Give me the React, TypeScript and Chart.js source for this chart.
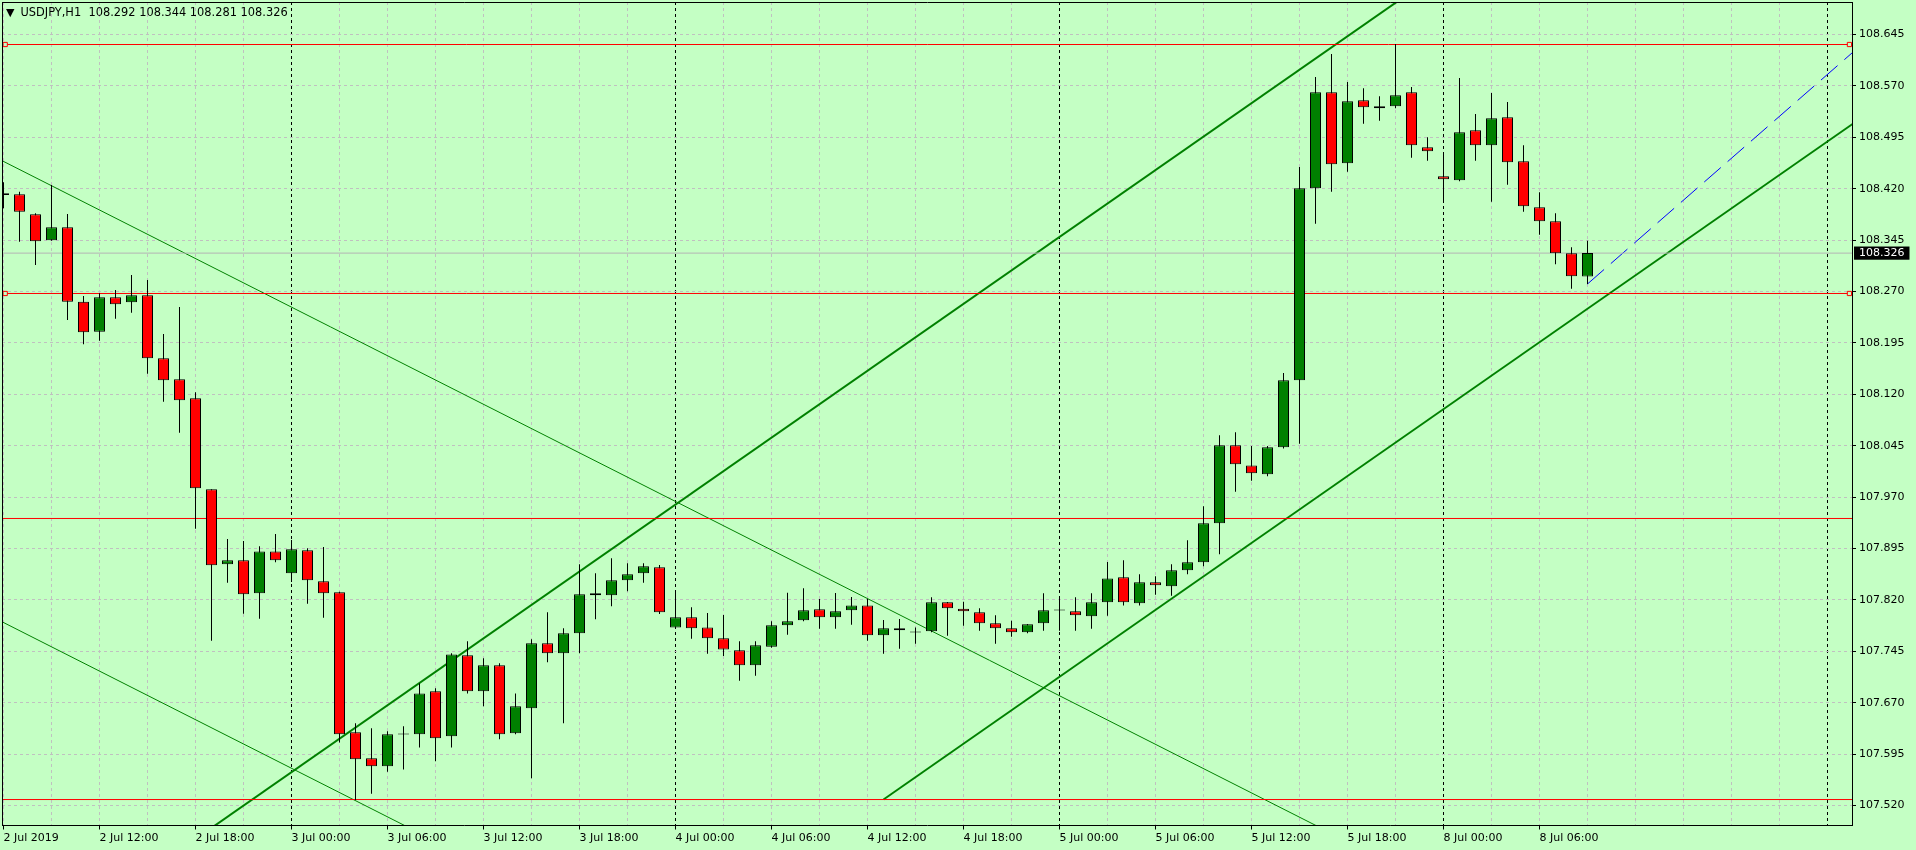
import React, { useEffect, useRef } from 'react';
import { Chart, registerables } from 'chart.js';

Chart.register(...registerables);

// ---------------- data ----------------
const SYMBOL = 'USDJPY,H1';

const opens = [
  108.4132, 108.4118, 108.3826, 108.3447, 108.3636, 108.2551, 108.2113, 108.2615, 108.2542, 108.2644,
  108.1725, 108.1418, 108.1141, 107.9813, 107.8719, 107.8777, 107.8296, 107.8908, 107.8587, 107.8923,
  107.8471, 107.8310, 107.6267, 107.5888, 107.5771, 107.6240, 107.6238, 107.6866, 107.6209, 107.7391,
  107.6866, 107.7245, 107.6253, 107.6618, 107.7566, 107.7420, 107.7712, 107.8296, 107.8266, 107.8485,
  107.8587, 107.8675, 107.7799, 107.7945, 107.7799, 107.7639, 107.7464, 107.7245, 107.7516, 107.7829,
  107.7902, 107.8062, 107.7945, 107.8048, 107.8120, 107.7683, 107.7785, 107.7727, 107.7741, 107.8164,
  107.8071, 107.8018, 107.7858, 107.7785, 107.7727, 107.7858, 107.8044, 107.8033, 107.7960, 107.8164,
  107.8529, 107.8150, 107.8456, 107.8398, 107.8631, 107.8748, 107.9317, 108.0455, 108.0160, 108.0032,
  108.0426, 108.1404, 108.4205, 108.5606, 108.4570, 108.5489, 108.5373, 108.5402, 108.5606, 108.4804,
  108.4380, 108.4322, 108.5052, 108.4833, 108.5241, 108.4599, 108.3928, 108.3724, 108.3257, 108.292,
];
const highs = [
  108.4293, 108.4156, 108.3840, 108.4254, 108.3830, 108.2634, 108.2673, 108.2721, 108.2940, 108.2867,
  108.2079, 108.2473, 108.1229, 107.9813, 107.9088, 107.9059, 107.8981, 107.9161, 107.9073, 107.8952,
  107.8971, 107.8319, 107.6399, 107.6326, 107.6282, 107.6355, 107.6982, 107.6909, 107.7420, 107.7595,
  107.7347, 107.7274, 107.6836, 107.7624, 107.8018, 107.7785, 107.8719, 107.8587, 107.8806, 107.8733,
  107.8733, 107.8709, 107.8344, 107.8091, 107.8008, 107.7979, 107.7595, 107.7595, 107.7887, 107.8304,
  107.8369, 107.8212, 107.8300, 107.8242, 107.8212, 107.7906, 107.7921, 107.7799, 107.8237, 107.8170,
  107.8173, 107.8077, 107.7975, 107.7896, 107.7850, 107.8296, 107.8252, 107.8237, 107.8296, 107.8752,
  107.8777, 107.8573, 107.8544, 107.8719, 107.9069, 107.9565, 108.0601, 108.0645, 108.0445, 108.0445,
  108.1510, 108.4516, 108.5829, 108.6165, 108.5757, 108.5665, 108.5548, 108.6311, 108.5684, 108.4950,
  108.4731, 108.5815, 108.5290, 108.5596, 108.5465, 108.4833, 108.4147, 108.3841, 108.3344, 108.344,
];
const lows = [
  108.3914, 108.3426, 108.3086, 108.3440, 108.2284, 108.1929, 108.1982, 108.2303, 108.2390, 108.1500,
  108.1091, 108.0639, 107.9238, 107.7604, 107.8450, 107.7998, 107.7925, 107.8748, 107.8461, 107.8144,
  107.7940, 107.6121, 107.5279, 107.5371, 107.5692, 107.5727, 107.6048, 107.5844, 107.6048, 107.6836,
  107.6647, 107.6165, 107.6238, 107.5596, 107.7289, 107.6399, 107.7420, 107.7916, 107.8106, 107.8325,
  107.8450, 107.7994, 107.7775, 107.7633, 107.7414, 107.7381, 107.7020, 107.7093, 107.7502, 107.7692,
  107.7887, 107.7779, 107.7779, 107.7837, 107.7604, 107.7414, 107.7487, 107.7560, 107.7727, 107.7677,
  107.7823, 107.7750, 107.7560, 107.7662, 107.7712, 107.7750, 107.7750, 107.7750, 107.7779, 107.7969,
  107.8120, 107.8120, 107.8275, 107.8261, 107.8573, 107.8690, 107.8865, 107.9778, 107.9939, 108.0003,
  108.0410, 108.0479, 108.3689, 108.4156, 108.4448, 108.5148, 108.5192, 108.5373, 108.4652, 108.4608,
  108.3995, 108.4308, 108.4608, 108.4010, 108.4258, 108.3864, 108.3528, 108.3096, 108.2740, 108.281,
];
const closes = [
  108.4108, 108.3864, 108.3432, 108.3636, 108.2551, 108.2104, 108.2615, 108.2513, 108.2644, 108.1725,
  108.1404, 108.1112, 107.9828, 107.8704, 107.8777, 107.8281, 107.8908, 107.8777, 107.8938, 107.8485,
  107.8296, 107.6238, 107.5873, 107.5771, 107.6238, 107.6236, 107.6836, 107.6180, 107.7405, 107.6866,
  107.7245, 107.6238, 107.6647, 107.7566, 107.7420, 107.7712, 107.8281, 107.8266, 107.8485, 107.8573,
  107.8690, 107.8018, 107.7945, 107.7785, 107.7639, 107.7478, 107.7245, 107.7537, 107.7829, 107.7887,
  107.8048, 107.7945, 107.8033, 107.8120, 107.7683, 107.7785, 107.7756, 107.7724, 107.8164, 107.8077,
  107.8033, 107.7858, 107.7785, 107.7727, 107.7843, 107.8048, 107.8047, 107.7975, 107.8164, 107.8514,
  107.8164, 107.8456, 107.8412, 107.8631, 107.8748, 107.9317, 108.0455, 108.0178, 108.0047, 108.0426,
  108.1404, 108.4205, 108.5606, 108.4556, 108.5475, 108.5387, 108.5402, 108.5562, 108.4833, 108.4745,
  108.4337, 108.5023, 108.4833, 108.5227, 108.4585, 108.3943, 108.3724, 108.3257, 108.2921, 108.326,
];

// time labels, one per 6 bars (bar 0 = 2 Jul 06:00)
const timeLabels = [
  '2 Jul 2019', '2 Jul 12:00', '2 Jul 18:00', '3 Jul 00:00', '3 Jul 06:00', '3 Jul 12:00',
  '3 Jul 18:00', '4 Jul 00:00', '4 Jul 06:00', '4 Jul 12:00', '4 Jul 18:00', '5 Jul 00:00',
  '5 Jul 06:00', '5 Jul 12:00', '5 Jul 18:00', '8 Jul 00:00', '8 Jul 06:00',
];
const LABEL_STEP = 6;
const GRID_STEP = 3;
const daySeparators = [18, 42, 66, 90, 114];

const priceTicks = [
  108.645, 108.57, 108.495, 108.42, 108.345, 108.27, 108.195, 108.12, 108.045,
  107.97, 107.895, 107.82, 107.745, 107.67, 107.595, 107.52,
];

// horizontal levels (red) and whether they show anchor squares
const hLevels = [108.6304, 108.2671, 107.9388, 107.5287];
const hLevelSelected = [true, true, false, false];

// trend lines (bar index, price)
const channelUpper = [{ x: 13, y: 107.4873 }, { x: 88, y: 108.7075 }];
const channelLower = [{ x: 55, y: 107.5287 }, { x: 116, y: 108.5215 }];
const fallingLine = [{ x: -1, y: 108.4716 }, { x: 84, y: 107.4675 }];
const fallingLine2 = [{ x: -1, y: 107.7988 }, { x: 27, y: 107.468 }];
const projection = [{ x: 99, y: 108.281 }, { x: 116, y: 108.6276 }];

// view range
const X_MIN = -0.09375;
const X_MAX = 115.53125;
const Y_MIN = 107.490811;
const Y_MAX = 108.692422;

// ---------------- styles ----------------
const BG = 'rgb(196,255,196)';
const GREEN = 'rgb(0,128,0)';
const RED = 'rgb(255,0,0)';
const GRID = 'rgb(192,192,192)';
const PRICE_LINE = 'rgb(180,180,180)';
const FONT = "'DejaVu Sans'";

export default function App() {
  const ref = useRef<HTMLCanvasElement | null>(null);

  const n = closes.length;
  const lastO = opens[n - 1], lastH = highs[n - 1], lastL = lows[n - 1], lastC = closes[n - 1];

  useEffect(() => {
    document.body.style.margin = '0';
    const canvas = ref.current;
    if (!canvas) return;

    const idx = closes.map((_, i) => i);
    const bodies = idx.map((i) => ({ x: i, y: [opens[i], closes[i]] }));
    const wicks = idx.map((i) => ({ x: i, y: [lows[i], highs[i]] }));
    const bodyColors = idx.map((i) => (closes[i] >= opens[i] ? GREEN : RED));

    const xTicks: number[] = [];
    for (let v = 0; v <= X_MAX; v += GRID_STEP) xTicks.push(v);
    const labelFor = (v: number) =>
      v % LABEL_STEP === 0 && v / LABEL_STEP < timeLabels.length ? timeLabels[v / LABEL_STEP] : '';

    const yTicks = [...priceTicks, lastC].sort((a, b) => a - b);
    const isLast = (ctx: any) => !!ctx.tick && ctx.tick.value === lastC;

    const lineDs = (data: any[], color: string, width: number, dash: number[] = []) => ({
      type: 'line' as const,
      data,
      borderColor: color,
      borderWidth: width,
      borderDash: dash,
      pointRadius: 0,
      fill: false,
      tension: 0,
      clip: 0,
      order: 5,
      xAxisID: 'x',
      yAxisID: 'y',
    });

    const levelDatasets = hLevels.map((lv, k) => {
      const sel = hLevelSelected[k];
      const pts = sel
        ? [X_MIN - 1, X_MIN + 0.2, X_MAX - 0.16, X_MAX + 1].map((x) => ({ x, y: lv }))
        : [X_MIN - 1, X_MAX + 1].map((x) => ({ x, y: lv }));
      return {
        ...lineDs(pts, RED, 1),
        pointRadius: sel ? [0, 3, 3, 0] : 0,
        pointStyle: 'rect',
        pointBorderColor: RED,
        pointBackgroundColor: BG,
        pointBorderWidth: 1,
        order: 4,
      };
    });

    const chart = new Chart(canvas, {
      type: 'bar',
      data: {
        datasets: [
          {
            type: 'bar',
            data: bodies as any,
            backgroundColor: bodyColors,
            borderColor: 'black',
            borderWidth: 1,
            borderSkipped: false,
            barThickness: 11,
            minBarLength: 1,
            grouped: false,
            inflateAmount: 0,
            clip: 0,
            order: 0,
            xAxisID: 'x',
            yAxisID: 'y',
          } as any,
          {
            type: 'bar',
            data: wicks as any,
            backgroundColor: 'black',
            borderWidth: 0,
            borderSkipped: false,
            barThickness: 1,
            grouped: false,
            inflateAmount: 0,
            clip: 0,
            order: 1,
            xAxisID: 'x',
            yAxisID: 'y',
          } as any,
          lineDs([{ x: X_MIN - 1, y: lastC }, { x: X_MAX + 1, y: lastC }], PRICE_LINE, 1) as any,
          ...(levelDatasets as any[]),
          lineDs(channelUpper, GREEN, 2) as any,
          lineDs(channelLower, GREEN, 2) as any,
          lineDs(fallingLine, GREEN, 1) as any,
          lineDs(fallingLine2, GREEN, 1) as any,
          lineDs(projection, 'rgb(0,0,255)', 1, [22, 9]) as any,
        ],
      },
      options: {
        responsive: false,
        maintainAspectRatio: false,
        animation: false,
        events: [],
        layout: { padding: { left: 2, top: 2, right: 0, bottom: 0 }, autoPadding: false } as any,
        plugins: {
          legend: { display: false },
          tooltip: { enabled: false },
          title: { display: false },
        },
        scales: {
          x: {
            type: 'linear',
            position: 'bottom',
            min: X_MIN,
            max: X_MAX,
            offset: false,
            afterBuildTicks: (s: any) => {
              s.ticks = xTicks.map((v) => ({ value: v }));
            },
            afterFit: (s: any) => {
              s.height = 24.5;
              s.paddingLeft = 0;
              s.paddingRight = 0;
              s.paddingTop = 0;
              s.paddingBottom = 0;
            },
            ticks: {
              autoSkip: false,
              maxRotation: 0,
              minRotation: 0,
              align: 'start',
              padding: 2,
              color: 'black',
              font: { family: FONT, size: 11 },
              callback: (v: any) => labelFor(Number(v)),
              z: 1,
            },
            grid: {
              offset: false,
              color: (ctx: any) =>
                ctx.tick && daySeparators.includes(ctx.tick.value) ? 'black' : GRID,
              lineWidth: 1,
              drawTicks: true,
              tickLength: 4,
              tickColor: (ctx: any) =>
                ctx.tick && labelFor(ctx.tick.value) !== '' ? 'black' : 'rgba(0,0,0,0)',
            },
            border: { display: true, color: 'black', width: 1, dash: [3, 3], z: 1 },
          } as any,
          y: {
            type: 'linear',
            position: 'right',
            min: Y_MIN,
            max: Y_MAX,
            afterBuildTicks: (s: any) => {
              s.ticks = yTicks.map((v) => ({ value: v }));
            },
            afterFit: (s: any) => {
              s.width = 64;
              s.paddingLeft = 0;
              s.paddingRight = 0;
              s.paddingTop = 0;
              s.paddingBottom = 0;
            },
            ticks: {
              autoSkip: false,
              padding: 3,
              crossAlign: 'near',
              font: { family: FONT, size: 11 },
              color: (ctx: any) => (isLast(ctx) ? 'white' : 'black'),
              callback: (v: any) => Number(v).toFixed(3),
              showLabelBackdrop: (ctx: any) => isLast(ctx),
              backdropColor: 'black',
              backdropPadding: { left: 5, right: 5, top: 0, bottom: 0 },
              z: 1,
            },
            grid: {
              color: (ctx: any) => (isLast(ctx) ? 'rgba(0,0,0,0)' : GRID),
              lineWidth: 1,
              drawTicks: true,
              tickLength: 4,
              tickColor: (ctx: any) => (isLast(ctx) ? 'rgba(0,0,0,0)' : 'black'),
            },
            border: { display: true, color: 'black', width: 1, dash: [3, 3], z: 1 },
          } as any,
          xt: {
            type: 'linear',
            position: 'top',
            min: 0,
            max: 1,
            afterFit: (s: any) => {
              s.height = 0;
              s.paddingLeft = 0;
              s.paddingRight = 0;
              s.paddingTop = 0;
              s.paddingBottom = 0;
            },
            ticks: { display: false },
            grid: { display: true, drawOnChartArea: false, drawTicks: false },
            border: { display: true, color: 'black', width: 1, z: 1 },
          } as any,
          yl: {
            type: 'linear',
            position: 'left',
            min: 0,
            max: 1,
            afterFit: (s: any) => {
              s.width = 0;
              s.paddingLeft = 0;
              s.paddingRight = 0;
              s.paddingTop = 0;
              s.paddingBottom = 0;
            },
            ticks: { display: false },
            grid: { display: true, drawOnChartArea: false, drawTicks: false },
            border: { display: true, color: 'black', width: 1, z: 1 },
          } as any,
        },
      } as any,
    });

    return () => chart.destroy();
  }, []);

  const header = `${SYMBOL}  ${lastO.toFixed(3)} ${lastH.toFixed(3)} ${lastL.toFixed(3)} ${lastC.toFixed(3)}`;

  return (
    <div
      style={{
        position: 'absolute',
        left: 0,
        top: 0,
        width: 1916,
        height: 850,
        background: BG,
        overflow: 'hidden',
      }}
    >
      <canvas ref={ref} width={1916} height={850} style={{ display: 'block' }} />
      <div
        style={{
          position: 'absolute',
          left: 6,
          top: 5,
          fontFamily: FONT,
          fontSize: 11.4,
          lineHeight: '14px',
          color: 'black',
          whiteSpace: 'pre',
        }}
      >
        <span style={{ fontSize: 11, marginRight: 6 }}>▼</span>
        {header}
      </div>
    </div>
  );
}
